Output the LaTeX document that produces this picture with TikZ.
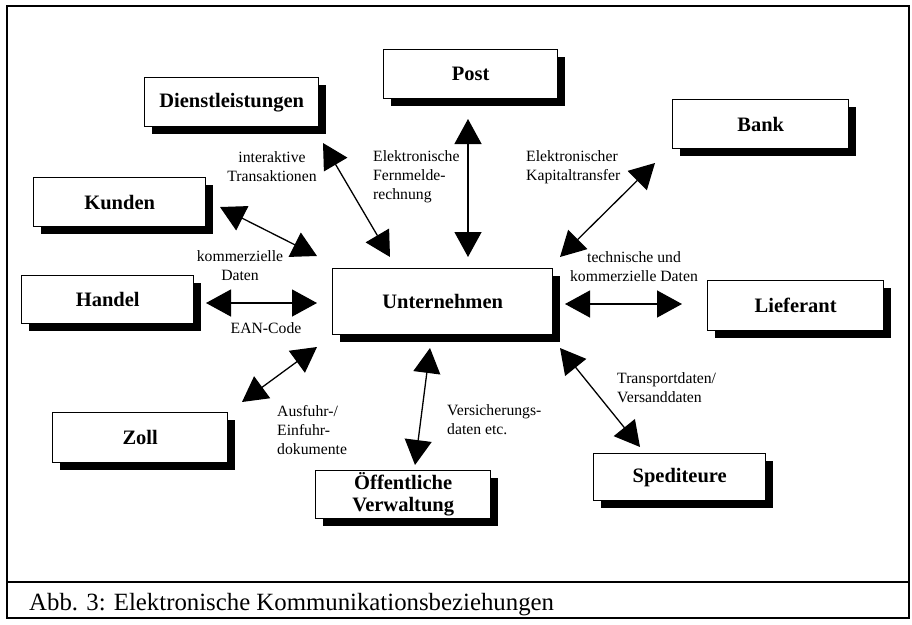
\documentclass[tikz,border=0pt]{standalone}
\usepackage{fontspec}
\setmainfont{Liberation Serif}
\usetikzlibrary{arrows.meta,shadows}
\begin{document}
\begin{tikzpicture}[x=1pt,y=-1pt,
  box/.style={draw=black, line width=1.4pt, fill=white, align=center, inner sep=0pt,
    anchor=north west, font=\fontsize{20.5}{22}\selectfont\bfseries,
    drop shadow={shadow xshift=7pt, shadow yshift=-7pt, fill=black, opacity=1}},
  lbl/.style={font=\fontsize{15.7}{19}\selectfont, inner sep=0pt},
  dbl/.style={line width=1.3pt, {Triangle[length=25pt,width=27pt]}-{Triangle[length=25pt,width=27pt]}}]
\useasboundingbox (0,0) rectangle (912,624);
% frame
\draw[line width=1.5pt] (7,6) rectangle (909,618);
\draw[line width=1.5pt] (7,582) -- (909,582);
\node[font=\fontsize{24.8}{26}\selectfont, anchor=base west, inner sep=0pt] (cap) at (29,610) {Abb. 3: Elektronische Kommunikationsbeziehungen};
% boxes
\node[box, minimum width=174pt, minimum height=49pt] (dl) at (144,77) {Dienstleistungen};
\node[box, minimum width=174pt, minimum height=49pt] (post) at (383,49) {Post};
\node[box, minimum width=176pt, minimum height=49pt] (bank) at (672,99) {Bank};
\node[box, minimum width=172pt, minimum height=49pt] (kunden) at (33,177) {Kunden};
\node[box, minimum width=172pt, minimum height=48pt] (handel) at (21,275) {Handel};
\node[box, minimum width=220pt, minimum height=66pt] (unt) at (332,268) {Unternehmen};
\node[box, minimum width=176pt, minimum height=50pt] (lief) at (707,280) {Lieferant};
\node[box, minimum width=175pt, minimum height=50pt] (zoll) at (52,412) {Zoll};
\node[box, minimum width=175pt, minimum height=48pt] (oev) at (315,470) {Öffentliche\\Verwaltung};
\node[box, minimum width=172pt, minimum height=47pt] (sped) at (593,453) {Spediteure};
% arrow end points
\coordinate (dlA) at (323,143); \coordinate (dlB) at (390,257);
\coordinate (poA) at (468,119); \coordinate (poB) at (468,257);
\coordinate (baA) at (655,163); \coordinate (baB) at (560,257);
\coordinate (kuA) at (220,207); \coordinate (kuB) at (317,256);
\coordinate (haA) at (206,303); \coordinate (haB) at (317,303);
\coordinate (liA) at (565,304); \coordinate (liB) at (682,304);
\coordinate (zoA) at (242,402); \coordinate (zoB) at (317,347);
\coordinate (oeA) at (415,465); \coordinate (oeB) at (430,348);
\coordinate (spA) at (640,447); \coordinate (spB) at (560,348);
\draw[dbl] (dlA) -- (dlB);
\draw[dbl] (poA) -- (poB);
\draw[dbl] (baA) -- (baB);
\draw[dbl] (kuA) -- (kuB);
\draw[dbl] (haA) -- (haB);
\draw[dbl] (liA) -- (liB);
\draw[dbl] (zoA) -- (zoB);
\draw[dbl] (oeA) -- (oeB);
\draw[dbl] (spA) -- (spB);
% labels
\node[lbl, align=center] (lInt) at (272,167) {interaktive\\Transaktionen};
\node[lbl, align=left, anchor=north west] (lPost) at (373,150) {Elektronische\\Fernmelde-\\rechnung};
\node[lbl, align=left, anchor=north west] (lBank) at (526,150) {Elektronischer\\Kapitaltransfer};
\node[lbl, align=center] (lKu) at (240,266) {kommerzielle\\Daten};
\node[lbl] (lHa) at (266,328) {EAN-Code};
\node[lbl, align=center] (lLi) at (634,267) {technische und\\kommerzielle Daten};
\node[lbl, align=left, anchor=north west] (lZo) at (277,405) {Ausfuhr-/\\Einfuhr-\\dokumente};
\node[lbl, align=left, anchor=north west] (lOe) at (447,404) {Versicherungs-\\daten etc.};
\node[lbl, align=left, anchor=north west] (lSp) at (617,372) {Transportdaten/\\Versanddaten};
\end{tikzpicture}
\end{document}
